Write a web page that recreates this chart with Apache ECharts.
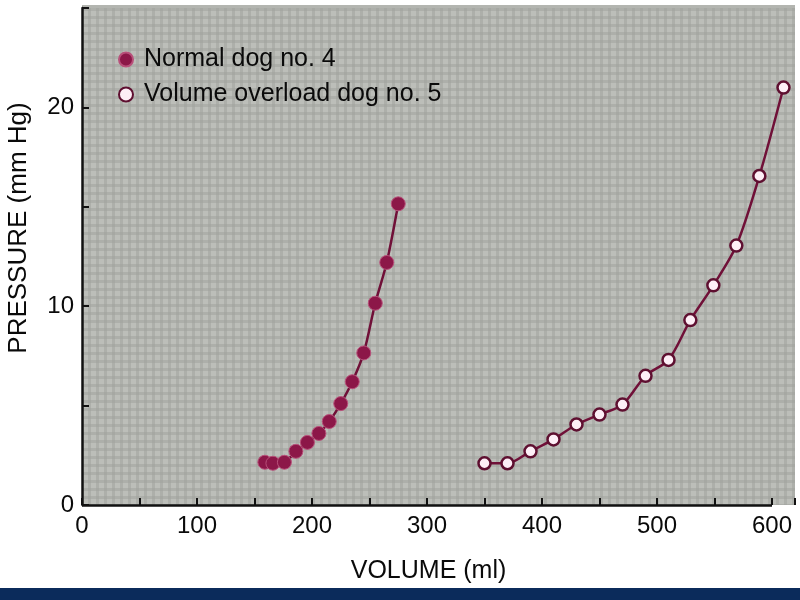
<!DOCTYPE html>
<html>
<head>
<meta charset="utf-8">
<script src="https://cdn.jsdelivr.net/npm/echarts@6/dist/echarts.min.js"></script>
<style>html,body{margin:0;padding:0;background:#fff;}#c{width:800px;height:600px;}</style>
</head>
<body>
<div id="c"></div>
<script>
// Data
const normalVolume = [159, 166, 176, 186, 196, 206, 215, 225, 235, 245, 255, 265, 275];
const normalPressure = [2.15, 2.1, 2.15, 2.7, 3.15, 3.6, 4.2, 5.1, 6.2, 7.65, 10.15, 12.2, 15.15];
const overloadVolume = [350, 370, 390, 410, 430, 450, 470, 490, 510, 529, 549, 569, 589, 610];
const overloadPressure = [2.1, 2.1, 2.7, 3.3, 4.05, 4.55, 5.05, 6.5, 7.3, 9.3, 11.05, 13.05, 16.55, 21.0];
const seriesNames = ['Normal dog no. 4', 'Volume overload dog no. 5'];
const xTickLabels = [0, 100, 200, 300, 400, 500, 600];
const yTickLabels = [0, 10, 20];
const xAxisLineEnd = 600;

const pairs = (xs, ys) => xs.map((x, i) => [x, ys[i]]);

// background pattern
const pc = document.createElement('canvas');
pc.width = 8; pc.height = 8;
const g = pc.getContext('2d');
g.fillStyle = '#bcbeb9'; g.fillRect(0, 0, 8, 8);
g.fillStyle = '#adafaa'; g.fillRect(0, 0, 8, 3); g.fillRect(0, 0, 3, 8);
g.fillStyle = '#a6a8a3'; g.fillRect(0, 0, 3, 3);

const chart = echarts.init(document.getElementById('c'), null, {renderer: 'canvas'});
const font = '"Liberation Sans", Arial, sans-serif';
const lineColor = '#701038';

chart.setOption({
  backgroundColor: '#ffffff',
  animation: false,
  grid: {left: 82, right: 5, top: 8, bottom: 95, containLabel: false,
    show: true, borderWidth: 0, backgroundColor: {image: pc, repeat: 'repeat'}},
  graphic: [
    {type: 'rect', z: -10, shape: {x: 82, y: 5, width: 713, height: 4},
      style: {fill: '#b3b5b0'}, silent: true},
    {type: 'rect', z: -10, shape: {x: 0, y: 588, width: 800, height: 12},
      style: {fill: '#0b2b5b'}, silent: true},
    {type: 'text', x: 19, y: 228, rotation: Math.PI / 2,
      style: {text: 'PRESSURE (mm Hg)', font: '26px ' + font, fill: '#0a0a0a',
        textAlign: 'center', textVerticalAlign: 'middle'}}
  ],
  legend: {
    orient: 'vertical', left: 113, top: 42, itemWidth: 26, itemHeight: 14, itemGap: 10,
    textStyle: {fontFamily: font, fontSize: 25, color: '#0a0a0a'},
    data: [{name: seriesNames[0], icon: 'circle'}, {name: seriesNames[1], icon: 'circle'}]
  },
  xAxis: {
    type: 'value', min: 0, max: 620, interval: 50,
    name: 'VOLUME (ml)', nameLocation: 'middle', nameGap: 54,
    nameTextStyle: {fontFamily: font, fontSize: 25, color: '#0a0a0a', padding: [0, 20, 0, 0]},
    axisLine: {show: false},
    axisTick: {show: true, inside: true, length: 7, lineStyle: {color: '#111', width: 2}},
    axisLabel: {fontFamily: font, fontSize: 24, color: '#0a0a0a', margin: 9,
      formatter: v => xTickLabels.includes(v) ? String(v) : ''},
    splitLine: {show: false}
  },
  yAxis: {
    type: 'value', min: 0, max: 25, interval: 5,
    axisLine: {show: true, onZero: false, lineStyle: {color: '#111', width: 2.5}},
    axisTick: {show: true, inside: true, length: 7, lineStyle: {color: '#111', width: 2}},
    axisLabel: {fontFamily: font, fontSize: 24, color: '#0a0a0a', margin: 8,
      formatter: v => yTickLabels.includes(v) ? String(v) : ''},
    splitLine: {show: false}
  },
  series: [
    {
      name: seriesNames[0], type: 'line', smooth: 0.3,
      data: pairs(normalVolume, normalPressure),
      symbol: 'circle', symbolSize: 14,
      lineStyle: {color: lineColor, width: 2.5},
      itemStyle: {color: '#8c1748', borderColor: '#b8507a', borderWidth: 1},
      markLine: {
        silent: true, symbol: 'none', label: {show: false},
        lineStyle: {color: '#111', width: 2.5, type: 'solid'},
        data: [[{coord: [0, 0]}, {coord: [xAxisLineEnd, 0]}]]
      }
    },
    {
      name: seriesNames[1], type: 'line', smooth: 0.3,
      data: pairs(overloadVolume, overloadPressure),
      symbol: 'circle', symbolSize: 12,
      lineStyle: {color: lineColor, width: 2.5},
      itemStyle: {color: '#fdeef6', borderColor: '#5e0f30', borderWidth: 2.5}
    }
  ]
});
</script>
</body>
</html>
